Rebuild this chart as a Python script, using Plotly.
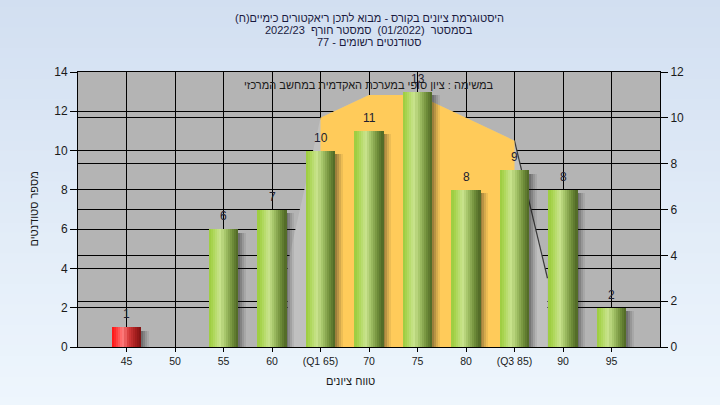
import plotly.graph_objects as go

# ---------------- data ----------------
categories = ["45", "50", "55", "60", "(Q1 65)", "70", "75", "80", "(Q3 85)", "90", "95"]
counts = [1, 0, 6, 7, 10, 11, 13, 8, 9, 8, 2]
failing = [True, False, False, False, False, False, False, False, False, False, False]

# distribution curve (right axis) between Q1 and Q3
curve_idx = [4, 5, 6, 7, 8]
curve_vals = [10, 11, 11, 10, 9]

title_lines = [
    "היסטוגרמת ציונים בקורס - מבוא לתכן ריאקטורים כימיים(ח)",
    "בסמסטר  (01/2022)  סמסטר חורף  2022/23",
    "סטודנטים רשומים - 77",
]
note_text = "במשימה : ציון סופי במערכת האקדמית במחשב המרכזי"
x_title = "טווח ציונים"
y_title = "מספר סטודנטים"

left_ticks = list(range(0, 15, 2))
right_ticks = list(range(0, 13, 2))

# ---------------- style ----------------
FONT = "Liberation Sans, Arial, DejaVu Sans, sans-serif"
TXT = "#1a1a1a"
PLOT_BG = "#b4b4b4"
ORANGE = "#ffcb5a"
DEPTH_GRAY = "#c0c0c0"
BAR_W = 0.6
N_SLICES = 14
DEPTH_DX = 0.68
DEPTH_DY = (6.4, 6.0)
LRM = "\u200e"  # left-to-right paragraph direction, like the original renderer


def lerp(stops, t):
    for (t0, c0), (t1, c1) in zip(stops, stops[1:]):
        if t0 <= t <= t1:
            f = (t - t0) / (t1 - t0) if t1 > t0 else 0
            return tuple(int(round(a + (b - a) * f)) for a, b in zip(c0, c1))
    return stops[-1][1]


green_stops = [(0.0, (155, 204, 62)), (0.12, (168, 212, 80)), (0.38, (202, 228, 142)),
               (0.55, (165, 196, 105)), (0.8, (112, 142, 58)), (1.0, (78, 102, 36))]
red_stops = [(0.0, (255, 18, 18)), (0.12, (255, 45, 45)), (0.38, (255, 125, 125)),
             (0.55, (215, 60, 60)), (0.8, (165, 30, 30)), (1.0, (125, 18, 18))]

x_pos = list(range(len(categories)))
fig = go.Figure()

# --- base subplot (right axis, y): depth polygon + orange area ---
dx = [curve_idx[0] - DEPTH_DX, curve_idx[0] - DEPTH_DX] + curve_idx + [curve_idx[-1] + DEPTH_DX, curve_idx[-1] + DEPTH_DX]
dy = [0, curve_vals[0] - DEPTH_DY[0]] + curve_vals + [curve_vals[-1] - DEPTH_DY[1], 0]
fig.add_trace(go.Scatter(x=dx, y=dy, yaxis="y", fill="toself", fillcolor=DEPTH_GRAY,
                         mode="lines", line=dict(width=0), hoverinfo="skip", showlegend=False))
fig.add_trace(go.Scatter(x=[curve_idx[-1], curve_idx[-1] + DEPTH_DX],
                         y=[curve_vals[-1], curve_vals[-1] - DEPTH_DY[1]], yaxis="y",
                         mode="lines", line=dict(width=1.2, color="#3a3a3a"),
                         hoverinfo="skip", showlegend=False))
ox = [curve_idx[0]] + curve_idx + [curve_idx[-1]]
oy = [0] + curve_vals + [0]
fig.add_trace(go.Scatter(x=ox, y=oy, yaxis="y", fill="toself", fillcolor=ORANGE,
                         mode="lines", line=dict(width=0), hoverinfo="skip", showlegend=False))

# --- overlaid subplot (left axis, y2): bars ---
shadow_alphas = [0.42, 0.3, 0.18, 0.08]
for k, a in enumerate(shadow_alphas):
    fig.add_trace(go.Bar(x=x_pos, y=[max(v - 0.18, 0) for v in counts], yaxis="y2",
                         width=0.045, offset=BAR_W / 2 + k * 0.04 - 0.005,
                         marker=dict(color=f"rgba(20,20,20,{a})", line=dict(width=0)),
                         hoverinfo="skip", showlegend=False))

sw = BAR_W / N_SLICES
for i in range(N_SLICES):
    t = (i + 0.5) / N_SLICES
    cols = [f"rgb{lerp(red_stops if f else green_stops, t)}" for f in failing]
    fig.add_trace(go.Bar(x=x_pos, y=counts, yaxis="y2",
                         width=sw * 1.25 if i < N_SLICES - 1 else sw,
                         offset=-BAR_W / 2 + i * sw,
                         marker=dict(color=cols, line=dict(width=0)),
                         hoverinfo="skip", showlegend=False))

annotations = []
for xi, v in zip(x_pos, counts):
    if v > 0:
        annotations.append(dict(x=xi, y=v, xref="x", yref="y2", text=str(v), showarrow=False,
                                yshift=13, font=dict(size=12, color="#202030", family=FONT)))

title_y_px = [18, 30, 42]
for line, py in zip(title_lines, title_y_px):
    annotations.append(dict(x=0.5, y=(347 - py) / 275, xref="paper", yref="paper",
                            xanchor="center", yanchor="middle", text=LRM + line, showarrow=False,
                            font=dict(size=11, color="#1a1a40", family=FONT)))
annotations.append(dict(x=0.5, y=(347 - 85) / 275, xref="paper", yref="paper",
                        xanchor="center", yanchor="middle", text=note_text, showarrow=False,
                        font=dict(size=11, color=TXT, family=FONT)))
annotations.append(dict(x=(350 - 78) / 582, y=(347 - 381) / 275, xref="paper", yref="paper",
                        xanchor="center", yanchor="middle", text=x_title, showarrow=False,
                        font=dict(size=11, color=TXT, family=FONT)))
annotations.append(dict(x=(33 - 78) / 582, y=0.5, xref="paper", yref="paper", textangle=-90,
                        xanchor="center", yanchor="middle", text=y_title, showarrow=False,
                        font=dict(size=11, color=TXT, family=FONT)))

# background gradient + plot area
shapes = []
n_strips = 40
top_c, bot_c = (210, 223, 241), (238, 246, 253)
y_lo, y_hi = -60 / 275, 1 + 75 / 275
for k in range(n_strips):
    t = k / (n_strips - 1)
    c = tuple(int(round(a + (b - a) * t)) for a, b in zip(top_c, bot_c))
    y1 = y_hi - (y_hi - y_lo) * k / n_strips
    y0 = y_hi - (y_hi - y_lo) * (k + 1) / n_strips - 0.005
    shapes.append(dict(type="rect", xref="paper", yref="paper", x0=-0.2, x1=1.2, y0=y0, y1=y1,
                       fillcolor=f"rgb{c}", line=dict(width=0), layer="below"))
shapes.append(dict(type="rect", xref="paper", yref="paper", x0=0, x1=1, y0=0, y1=1,
                   fillcolor=PLOT_BG, line=dict(width=0), layer="below"))

axis_common = dict(showgrid=True, gridcolor="#000000", gridwidth=1, zeroline=False,
                   showline=True, linecolor="#000000", linewidth=1, ticks="outside",
                   ticklen=7, tickcolor="#000000", tickfont=dict(size=12, color=TXT))

fig.update_layout(
    width=720, height=405,
    margin=dict(l=78, r=60, t=72, b=58),
    paper_bgcolor="#e4eef9", plot_bgcolor=PLOT_BG,
    barmode="overlay", bargap=0,
    font=dict(family=FONT, size=12, color=TXT),
    showlegend=False,
    xaxis=dict(range=[-1, 11], tickvals=x_pos, ticktext=categories, showgrid=True,
               gridcolor="#000000", gridwidth=1, zeroline=False, showline=True,
               linecolor="#000000", linewidth=1, mirror=True, ticks="outside", ticklen=4,
               tickcolor="#000000", tickfont=dict(size=10.5, color=TXT)),
    yaxis=dict(range=[0, 12], tickvals=right_ticks, side="right", **axis_common),
    yaxis2=dict(range=[0, 14], tickvals=left_ticks, side="left", overlaying="y", **axis_common),
    annotations=annotations,
    shapes=shapes,
)

fig.write_html("out.html", config={"displayModeBar": False},
               post_script="document.body.style.margin='0';document.body.style.padding='0';")
